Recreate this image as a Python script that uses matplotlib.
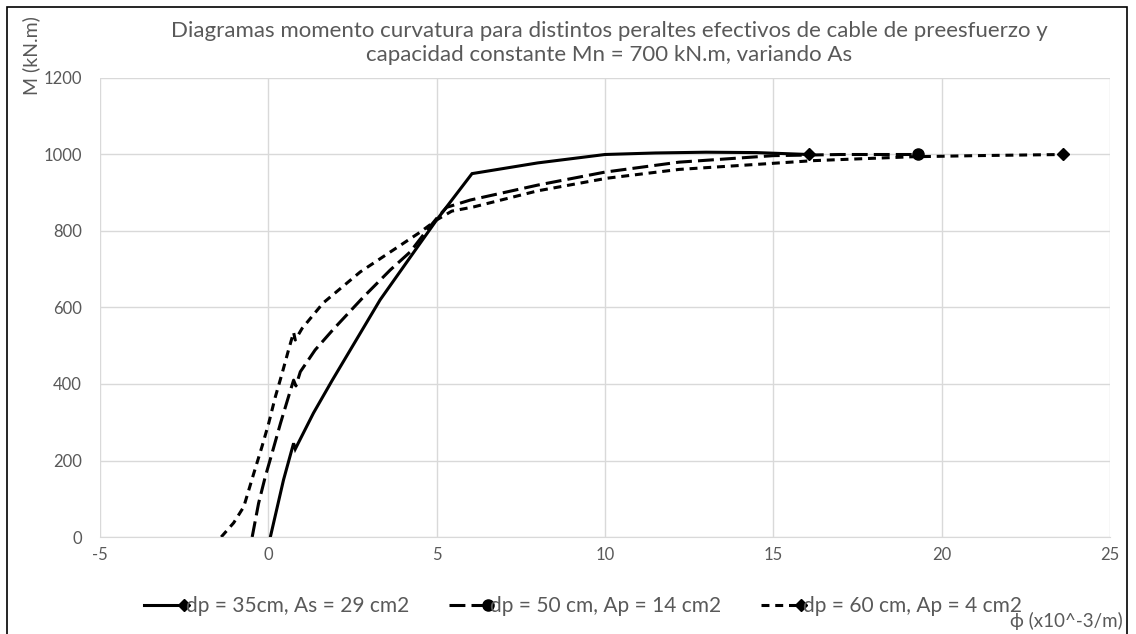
import numpy as np
import matplotlib
matplotlib.use("Agg")
import matplotlib.pyplot as plt
from matplotlib.legend_handler import HandlerLine2D
from matplotlib.patches import Rectangle

plt.rcParams['font.family'] = ['Lato', 'DejaVu Sans']
plt.rcParams['axes.unicode_minus'] = False

# ---- data ----
title = ("Diagramas momento curvatura para distintos peraltes efectivos de cable de preesfuerzo y\n"
         "capacidad constante Mn = 700 kN.m, variando As")
labels = ["dp = 35cm, As = 29 cm2", "dp = 50 cm, Ap = 14 cm2", "dp = 60 cm, Ap = 4 cm2"]

phi_35 = [0.06, 0.45, 0.75, 0.80, 1.34, 1.9, 3.32, 4.3, 5.0, 6.05, 8.0, 10.0, 11.5, 13.0, 14.5, 16.05]
m_35 = [0, 149, 245, 230, 324, 410, 620, 742, 829, 950, 978, 1000, 1004, 1006, 1005, 1000]

phi_50 = [-0.48, -0.29, -0.09, 0.11, 0.36, 0.6, 0.75, 0.82, 0.95, 1.39, 1.93, 2.82, 3.62, 4.21,
          4.72, 5.0, 5.3, 6.0, 8.0, 10.0, 12.2, 15.0, 17.0, 19.3]
m_50 = [0, 88, 158, 219, 297, 367, 410, 395, 432, 489, 543, 627, 698, 745,
        803, 833, 862, 881, 920, 954, 980, 997, 1000, 1000]

phi_60 = [-1.4, -1.03, -0.73, -0.43, -0.19, 0.01, 0.21, 0.41, 0.6, 0.75, 0.8, 1.0, 1.63, 2.73,
          3.62, 4.51, 5.0, 5.45, 6.1, 8.0, 10.06, 12.2, 15.0, 16.2, 19.1, 21.0, 23.6]
m_60 = [0, 37, 79, 167, 236, 297, 367, 428, 489, 535, 515, 545, 612, 693,
        745, 797, 829, 852, 863, 905, 938, 961, 977, 984, 994, 997, 1000]

xticks = [-5, 0, 5, 10, 15, 20, 25]
yticks = [0, 200, 400, 600, 800, 1000, 1200]

# ---- figure ----
W, H = 1136, 634
fig = plt.figure(figsize=(W / 100, H / 100), dpi=100)
ax = fig.add_axes([100 / W, 1 - 537 / H, (1110 - 100) / W, (537 - 78) / H])

txt = '#595959'
grid_c = '#d9d9d9'

lw = 2.2
l1, = ax.plot(phi_35, m_35, color='black', lw=lw, ls='-', marker='D', markersize=6,
              markevery=[len(phi_35) - 1], solid_joinstyle='miter')
l2, = ax.plot(phi_50, m_50, color='black', lw=lw, dashes=(5.2, 2.0), marker='o', markersize=8,
              markevery=[len(phi_50) - 1])
l3, = ax.plot(phi_60, m_60, color='black', lw=lw, dashes=(2.6, 1.9), marker='D', markersize=6,
              markevery=[len(phi_60) - 1])

ax.set_xlim(-5, 25)
ax.set_ylim(0, 1200)
ax.set_xticks(xticks)
ax.set_yticks(yticks)
ax.grid(True, color=grid_c, lw=1)
ax.set_axisbelow(True)
for s in ['top', 'right', 'left']:
    ax.spines[s].set_visible(False)
ax.spines['bottom'].set_color(grid_c)
ax.tick_params(length=0, labelsize=12, labelcolor=txt)
ax.tick_params(axis='y', pad=13)
ax.tick_params(axis='x', pad=7)

fig.text(609 / W, 1 - 43 / H, title, ha='center', va='center', fontsize=16, color=txt,
         linespacing=1.25)
fig.text(31 / W, 1 - 56 / H, 'M (kN.m)', rotation=90, ha='center', va='center',
         fontsize=14, color=txt)
fig.text(1123 / W, 1 - 621 / H, 'ϕ (x10^-3/m)', ha='right', va='center',
         fontsize=13.5, color=txt)


class EndMarker(HandlerLine2D):
    def create_artists(self, legend, orig_handle, xdescent, ydescent, width, height,
                       fontsize, trans):
        arts = super().create_artists(legend, orig_handle, xdescent, ydescent, width,
                                      height, fontsize, trans)
        arts[0].set_markevery([2])
        return arts


leg = fig.legend([l1, l2, l3], labels, ncol=3, loc='center',
                 bbox_to_anchor=(583 / W, 1 - 606 / H), frameon=False,
                 fontsize=15, handlelength=1.9, handletextpad=0.1, columnspacing=1.9,
                 handler_map={l1: EndMarker(), l2: EndMarker(), l3: EndMarker()})
for t in leg.get_texts():
    t.set_color(txt)

fig.patches.append(Rectangle((7 / W, -0.05), (1127 - 7) / W, 1 - 7 / H + 0.05,
                             transform=fig.transFigure, fill=False, ec='black', lw=1.2))

fig.savefig('out.png', dpi=100)
